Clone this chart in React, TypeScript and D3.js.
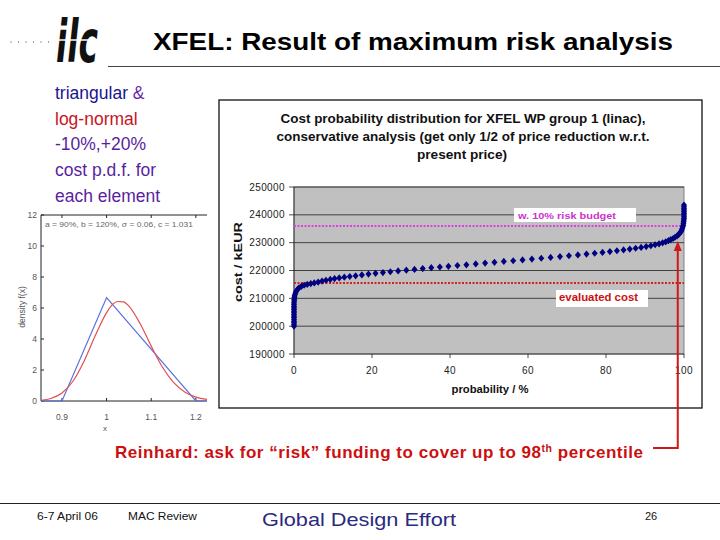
import React from "react";
import * as d3 from "d3";

// ---- Main chart data (probability %, cost kEUR) ----
const probability = [0,0,0,0,0,0,0,0,0,0,0,0,0,0,0,0.05,0.05,0.1,0.15,0.25,0.4,0.6,0.9,1.3,1.9,2.6,3.4,4.3,5.2,6.2,7.2,8.2,9.3,10.4,11.6,12.9,14.3,15.8,17.4,19.1,20.9,22.8,24.7,26.7,28.8,30.9,33.0,35.2,37.4,39.6,41.9,44.2,46.6,49.0,51.4,53.8,56.2,58.6,61.0,63.4,65.8,68.2,70.5,72.8,75.0,77.1,79.1,81.0,82.8,84.5,86.1,87.6,89.0,90.3,91.5,92.6,93.6,94.5,95.3,96.0,96.6,97.2,97.7,98.2,98.6,98.9,99.2,99.4,99.55,99.7,99.8,99.85,99.9,99.95,100,100,100,100,100,100,100,100,100];
const cost = [200000,200600,201200,201800,202400,203000,203600,204200,204800,205400,206000,206600,207200,207800,208400,209000,209600,210200,210800,211400,212000,212600,213200,213800,214300,214700,215000,215300,215550,215850,216200,216500,216800,217100,217350,217600,217850,218100,218400,218700,219000,219250,219550,219850,220100,220400,220700,221000,221250,221500,221800,222050,222350,222650,222950,223250,223500,223800,224100,224400,224700,225000,225300,225600,225900,226200,226500,226800,227100,227400,227700,228000,228300,228600,228900,229250,229600,229950,230300,230700,231100,231500,231950,232400,232900,233400,233900,234500,235100,235700,236300,236900,237500,238100,238700,239300,239900,240500,241100,241700,242300,242900,243500];
const yTicks = [190000,200000,210000,220000,230000,240000,250000];
const xTicks = [0,20,40,60,80,100];
const riskBudget = 236000;
const evaluatedCost = 215500;
const percentile98 = 98.4;
const chartTitle = [
  "Cost probability distribution for XFEL WP group 1 (linac),",
  "conservative analysis (get only 1/2 of price reduction w.r.t.",
  "present price)",
];

// ---- Small p.d.f. plot data ----
const triX = [0.853, 0.9, 1.0, 1.2, 1.225];
const triY = [0, 0, 6.67, 0, 0];
const logX = [0.853,0.875,0.9,0.925,0.95,0.975,1.0,1.0125,1.025,1.0375,1.05,1.075,1.1,1.125,1.15,1.175,1.2,1.225];
const logY = [0.04,0.16,0.51,1.29,2.6,4.24,5.7,6.2,6.42,6.4,6.12,5.0,3.54,2.19,1.2,0.58,0.25,0.11];
const smallYTicks = [0,2,4,6,8,10,12];
const smallXTicks = [0.9,1,1.1,1.2];

const FONT = "'Liberation Sans', Arial, sans-serif";

export default function App() {
  const x = d3.scaleLinear().domain([0, 100]).range([294, 684]);
  const y = d3.scaleLinear().domain([190000, 250000]).range([354, 187]);
  const pts = probability.map((p, i) => [x(p), y(cost[i])]);

  const sx = d3.scaleLinear().domain([0.853, 1.225]).range([41, 207]);
  const sy = d3.scaleLinear().domain([0, 12]).range([401, 215]);
  const triLine = d3.line<number>().x((d, i) => sx(triX[i])).y((d) => sy(d))(triY) || "";
  const logLine = d3.line<number>().x((d, i) => sx(logX[i])).y((d) => sy(d)).curve(d3.curveMonotoneX)(logY) || "";

  const arrowX = x(percentile98);
  const arrowTip = 241;

  return (
    <svg width={720} height={540} style={{ position: "fixed", left: 0, top: 0, background: "#fff" }} fontFamily={FONT}>
      <rect x={0} y={0} width={720} height={540} fill="#fff" />
      {/* Header */}
      {[0, 1, 2, 3, 4, 5].map((i) => (
        <circle key={i} cx={11 + i * 7.5} cy={42} r={0.7} fill="#777" />
      ))}
      <text x={56} y={62} fontSize={58} fontWeight={900} fontStyle="italic" fill="#111" fontFamily="'DejaVu Sans Condensed', 'DejaVu Sans', sans-serif" textLength={42} lengthAdjust="spacingAndGlyphs">ilc</text>
      <line x1={50} x2={100} y1={40} y2={40} stroke="#fff" strokeWidth={1.5} />
      <text x={153} y={50} fontSize={24} fontWeight="bold" fill="#000" textLength={520} lengthAdjust="spacingAndGlyphs">XFEL: Result of maximum risk analysis</text>
      <line x1={108} x2={720} y1={66.5} y2={66.5} stroke="#444" strokeWidth={1} />

      {/* Left description */}
      <g fontSize={17.5}>
        <text x={55} y={99}><tspan fill="#1a148f">triangular </tspan><tspan fill="#6a1fa6">&amp;</tspan></text>
        <text x={55} y={125} fill="#c8141e">log-normal</text>
        <text x={55} y={150} fill="#5a1f9e">-10%,+20%</text>
        <text x={55} y={176} fill="#5a1f9e">cost p.d.f. for</text>
        <text x={55} y={202} fill="#5a1f9e">each element</text>
      </g>

      {/* Small pdf plot */}
      <g>
        <line x1={41} x2={207} y1={215} y2={215} stroke="#222" strokeWidth={1} />
        <line x1={41} x2={41} y1={215} y2={401} stroke="#222" strokeWidth={1} />
        <line x1={41} x2={207} y1={401} y2={401} stroke="#222" strokeWidth={1} />
        {smallYTicks.map((t) => (
          <g key={t}>
            <line x1={41} x2={44} y1={sy(t)} y2={sy(t)} stroke="#222" />
            <text x={37} y={sy(t) + 3} fontSize={8.5} textAnchor="end" fill="#555">{t}</text>
          </g>
        ))}
        {smallXTicks.map((t) => (
          <g key={t}>
            <line x1={sx(t)} x2={sx(t)} y1={401} y2={398} stroke="#222" />
            <line x1={sx(t)} x2={sx(t)} y1={215} y2={218} stroke="#222" />
            <text x={sx(t)} y={420} fontSize={8.5} textAnchor="middle" fill="#555">{t}</text>
          </g>
        ))}
        <text x={105} y={431} fontSize={8} textAnchor="middle" fill="#555">x</text>
        <text transform="translate(25,307) rotate(-90)" fontSize={8.5} textAnchor="middle" fill="#555">density  f(x)</text>
        <text x={45} y={227} fontSize={7} fill="#666" textLength={148} lengthAdjust="spacingAndGlyphs">a = 90%, b = 120%, σ = 0.06, c = 1.031</text>
        <path d={triLine} fill="none" stroke="#5a6ee0" strokeWidth={1.2} />
        <path d={logLine} fill="none" stroke="#e05050" strokeWidth={1.2} />
      </g>

      {/* Main chart frame */}
      <rect x={219} y={100} width={483} height={308} fill="#fff" stroke="#111" strokeWidth={1.3} />
      <g fontSize={12} fontWeight="bold" textAnchor="middle" fill="#111">
        <text x={463} y={123} textLength={365} lengthAdjust="spacingAndGlyphs">{chartTitle[0]}</text>
        <text x={463} y={141} textLength={373} lengthAdjust="spacingAndGlyphs">{chartTitle[1]}</text>
        <text x={462} y={159} textLength={90} lengthAdjust="spacingAndGlyphs">{chartTitle[2]}</text>
      </g>

      {/* Plot area */}
      <rect x={x(0)} y={y(250000)} width={x(100) - x(0)} height={y(190000) - y(250000)} fill="#c0c0c0" stroke="#808080" strokeWidth={1} />
      {yTicks.map((t) => (
        <g key={t}>
          {t > 190000 && <line x1={x(0)} x2={x(100)} y1={y(t)} y2={y(t)} stroke="#222" strokeWidth={0.8} />}
          <line x1={x(0) - 5} x2={x(0)} y1={y(t)} y2={y(t)} stroke="#222" strokeWidth={0.8} />
          <text x={285} y={y(t) + 3.5} fontSize={10} textAnchor="end" fill="#222" letterSpacing={0.4}>{t}</text>
        </g>
      ))}
      <line x1={x(0)} x2={x(0)} y1={y(250000)} y2={y(190000)} stroke="#222" strokeWidth={0.8} />
      <line x1={x(0)} x2={x(100)} y1={y(190000)} y2={y(190000)} stroke="#222" strokeWidth={0.8} />
      {xTicks.map((t) => (
        <g key={t}>
          <line x1={x(t)} x2={x(t)} y1={y(190000)} y2={y(190000) + 4} stroke="#222" strokeWidth={0.8} />
          <text x={x(t)} y={374} fontSize={10} textAnchor="middle" fill="#222" letterSpacing={0.4}>{t}</text>
        </g>
      ))}
      <text x={490} y={393} fontSize={10.5} fontWeight="bold" textAnchor="middle" fill="#111" textLength={77} lengthAdjust="spacingAndGlyphs">probability / %</text>
      <text transform="translate(242,262) rotate(-90)" fontSize={10.5} fontWeight="bold" textAnchor="middle" fill="#111" textLength={80} lengthAdjust="spacingAndGlyphs">cost / kEUR</text>

      {/* reference lines */}
      <line x1={x(0)} x2={x(100)} y1={y(riskBudget)} y2={y(riskBudget)} stroke="#e040e0" strokeWidth={2} strokeDasharray="2,1.5" />
      <line x1={x(0)} x2={x(100)} y1={y(evaluatedCost)} y2={y(evaluatedCost)} stroke="#d42020" strokeWidth={2} strokeDasharray="2,1.5" />

      {/* data points */}
      <g fill="#000080">
        {pts.map(([px, py], i) => (
          <path key={i} d={`M${px},${py - 3.6}L${px + 3},${py}L${px},${py + 3.6}L${px - 3},${py}Z`} />
        ))}
      </g>

      {/* labels */}
      <rect x={514} y={208} width={122} height={14} fill="#fff" />
      <text x={518} y={219} fontSize={9.5} fontWeight="bold" fill="#cc33cc" textLength={98} lengthAdjust="spacingAndGlyphs">w. 10% risk budget</text>
      <rect x={556} y={290} width={92} height={17} fill="#fff" />
      <text x={559} y={301} fontSize={10} fontWeight="bold" fill="#cc1010" textLength={79} lengthAdjust="spacingAndGlyphs">evaluated cost</text>

      {/* arrow */}
      <path d={`M${arrowX},${arrowTip + 8}L${arrowX},448L653,448`} fill="none" stroke="#d01818" strokeWidth={2} />
      <path d={`M${arrowX - 4},${arrowTip + 10}L${arrowX},${arrowTip}L${arrowX + 4},${arrowTip + 10}Z`} fill="#d01818" />

      {/* bottom statement */}
      <text x={115} y={458} fontSize={17} fontWeight="bold" fill="#cc1010" textLength={528} lengthAdjust="spacing">
        Reinhard:  ask for “risk” funding to cover up to 98<tspan fontSize={10.5} dy={-6.5}>th</tspan><tspan dy={6.5}> percentile</tspan>
      </text>

      {/* footer */}
      <line x1={0} x2={720} y1={503.5} y2={503.5} stroke="#222" strokeWidth={1} />
      <text x={37} y={520} fontSize={10.5} fill="#111" textLength={61} lengthAdjust="spacingAndGlyphs">6-7 April 06</text>
      <text x={128} y={520} fontSize={10.5} fill="#111" textLength={69} lengthAdjust="spacingAndGlyphs">MAC Review</text>
      <text x={262} y={526} fontSize={19} fill="#2a2a80" textLength={194} lengthAdjust="spacingAndGlyphs">Global Design Effort</text>
      <text x={645} y={520} fontSize={11} fill="#111">26</text>
    </svg>
  );
}
